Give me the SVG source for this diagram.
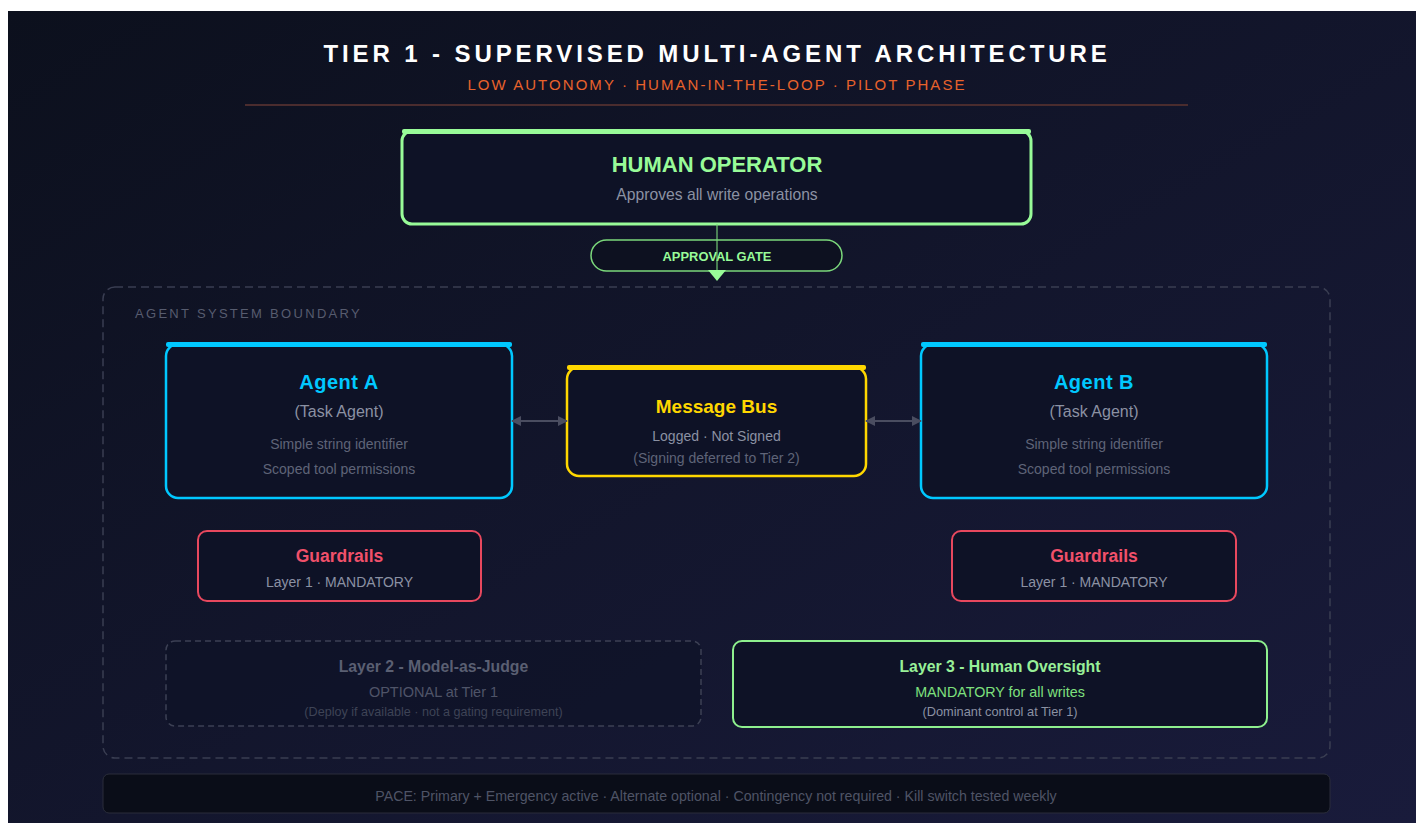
<svg xmlns="http://www.w3.org/2000/svg" width="1416" height="823" viewBox="0 0 1416 823">
<defs>
<linearGradient id="bg" x1="0" y1="0" x2="1" y2="1">
<stop offset="0" stop-color="#0c101d"/>
<stop offset="1" stop-color="#191b3b"/>
</linearGradient>
<marker id="ah" markerWidth="10" markerHeight="10" refX="9" refY="5" orient="auto-start-reverse" markerUnits="userSpaceOnUse">
<path d="M0,0 L10,5 L0,10 Z" fill="#4a4d60"/>
</marker>
</defs>
<style>
text{font-family:"Liberation Sans",Arial,sans-serif;text-anchor:middle}
.box{fill:#0e1226}
.b{font-weight:bold}
.gray{fill:#8b91a3}
.dim{fill:#5f6478}
.conn{stroke:#4a4d60;stroke-width:2;fill:none}
</style>
<rect x="0" y="0" width="1416" height="823" fill="#ffffff"/>
<rect x="8" y="11" width="1408" height="812" fill="url(#bg)"/>

<g id="header">
<text x="717" y="62" font-size="24" class="b" fill="#ffffff" letter-spacing="3.9">TIER 1 - SUPERVISED MULTI-AGENT ARCHITECTURE</text>
<text x="717" y="90" font-size="15" fill="#e8622c" letter-spacing="2.05">LOW AUTONOMY · HUMAN-IN-THE-LOOP · PILOT PHASE</text>
<line x1="245" y1="105" x2="1188" y2="105" stroke="#4a2c2e" stroke-width="2"/>
</g>

<g id="boundary">
<rect x="103" y="287" width="1227" height="471" rx="12" fill="none" stroke="#3a3e52" stroke-width="1.5" stroke-dasharray="8 5"/>
<text x="135" y="318" font-size="13" fill="#575c6f" letter-spacing="2.3" style="text-anchor:start">AGENT SYSTEM BOUNDARY</text>
</g>

<g id="human-operator">
<rect x="402" y="131" width="629" height="93" rx="10" class="box" stroke="#98fb98" stroke-width="3"/>
<rect x="402" y="129" width="629" height="5" rx="2" fill="#98fb98"/>
<text x="717" y="172" font-size="22" class="b" fill="#98fb98">HUMAN OPERATOR</text>
<text x="717" y="200" font-size="15.7" class="gray">Approves all write operations</text>
</g>

<g id="approval-gate">
<rect x="591" y="240" width="251" height="31" rx="15.5" fill="#0d1120" stroke="#7bd87b" stroke-width="1.5"/>
<text x="717" y="261" font-size="12.9" class="b" fill="#98fb98">APPROVAL GATE</text>
</g>

<g id="agent-a">
<rect x="166" y="344" width="346" height="154" rx="12" class="box" stroke="#00c8ff" stroke-width="2.5"/>
<rect x="166" y="342" width="346" height="5" rx="2" fill="#00c8ff"/>
<text x="339" y="389" font-size="20" class="b" fill="#00c8ff" letter-spacing="0.5">Agent A</text>
<text x="339" y="417" font-size="16" class="gray">(Task Agent)</text>
<text x="339" y="449" font-size="14" class="dim">Simple string identifier</text>
<text x="339" y="474" font-size="14" class="dim">Scoped tool permissions</text>
</g>

<g id="agent-b">
<rect x="921" y="344" width="346" height="154" rx="12" class="box" stroke="#00c8ff" stroke-width="2.5"/>
<rect x="921" y="342" width="346" height="5" rx="2" fill="#00c8ff"/>
<text x="1094" y="389" font-size="20" class="b" fill="#00c8ff" letter-spacing="0.5">Agent B</text>
<text x="1094" y="417" font-size="16" class="gray">(Task Agent)</text>
<text x="1094" y="449" font-size="14" class="dim">Simple string identifier</text>
<text x="1094" y="474" font-size="14" class="dim">Scoped tool permissions</text>
</g>

<g id="message-bus">
<rect x="567" y="367" width="299" height="109" rx="12" class="box" stroke="#ffd700" stroke-width="2.5"/>
<rect x="567" y="365" width="299" height="5" rx="2" fill="#ffd700"/>
<text x="716.5" y="413" font-size="19" class="b" fill="#ffd700">Message Bus</text>
<text x="716.5" y="441" font-size="14" class="gray">Logged · Not Signed</text>
<text x="716.5" y="463" font-size="14" class="dim">(Signing deferred to Tier 2)</text>
</g>

<g id="guardrails-a">
<rect x="198" y="531" width="283" height="70" rx="9" class="box" stroke="#e8485e" stroke-width="2"/>
<text x="339.5" y="562" font-size="17.5" class="b" fill="#f0506a">Guardrails</text>
<text x="339.5" y="587" font-size="14" class="gray">Layer 1 · MANDATORY</text>
</g>

<g id="guardrails-b">
<rect x="952" y="531" width="284" height="70" rx="9" class="box" stroke="#e8485e" stroke-width="2"/>
<text x="1094" y="562" font-size="17.5" class="b" fill="#f0506a">Guardrails</text>
<text x="1094" y="587" font-size="14" class="gray">Layer 1 · MANDATORY</text>
</g>

<g id="layer-2">
<rect x="166" y="641" width="535" height="85" rx="9" fill="#0e1226" fill-opacity="0.6" stroke="#3c4054" stroke-width="1.5" stroke-dasharray="6 4"/>
<text x="433.5" y="672" font-size="15.8" class="b" fill="#5a5f72">Layer 2 - Model-as-Judge</text>
<text x="433.5" y="697" font-size="14.5" fill="#4f5468">OPTIONAL at Tier 1</text>
<text x="433.5" y="716" font-size="12.6" fill="#3e4356">(Deploy if available · not a gating requirement)</text>
</g>

<g id="layer-3">
<rect x="733" y="641" width="534" height="86" rx="9" class="box" stroke="#8ef08e" stroke-width="2"/>
<text x="1000" y="672" font-size="15.8" class="b" fill="#98f098">Layer 3 - Human Oversight</text>
<text x="1000" y="697" font-size="14.3" fill="#7ee07e">MANDATORY for all writes</text>
<text x="1000" y="716" font-size="12.8" class="gray">(Dominant control at Tier 1)</text>
</g>

<g id="footer">
<rect x="103" y="774" width="1227" height="39" rx="6" fill="#0a0d18" stroke="#2a2d3a" stroke-width="1"/>
<text x="716" y="801" font-size="14.2" fill="#4f5466">PACE: Primary + Emergency active · Alternate optional · Contingency not required · Kill switch tested weekly</text>
</g>

<g id="connectors">
<line x1="717" y1="224" x2="717" y2="272" stroke="#7bd87b" stroke-width="2" stroke-opacity="0.55"/>
<path d="M708,270 L726,270 L717,281 Z" fill="#98fb98"/>
<line x1="512" y1="421" x2="567" y2="421" class="conn" marker-start="url(#ah)" marker-end="url(#ah)"/>
<line x1="866" y1="421" x2="921" y2="421" class="conn" marker-start="url(#ah)" marker-end="url(#ah)"/>
</g>
</svg>
